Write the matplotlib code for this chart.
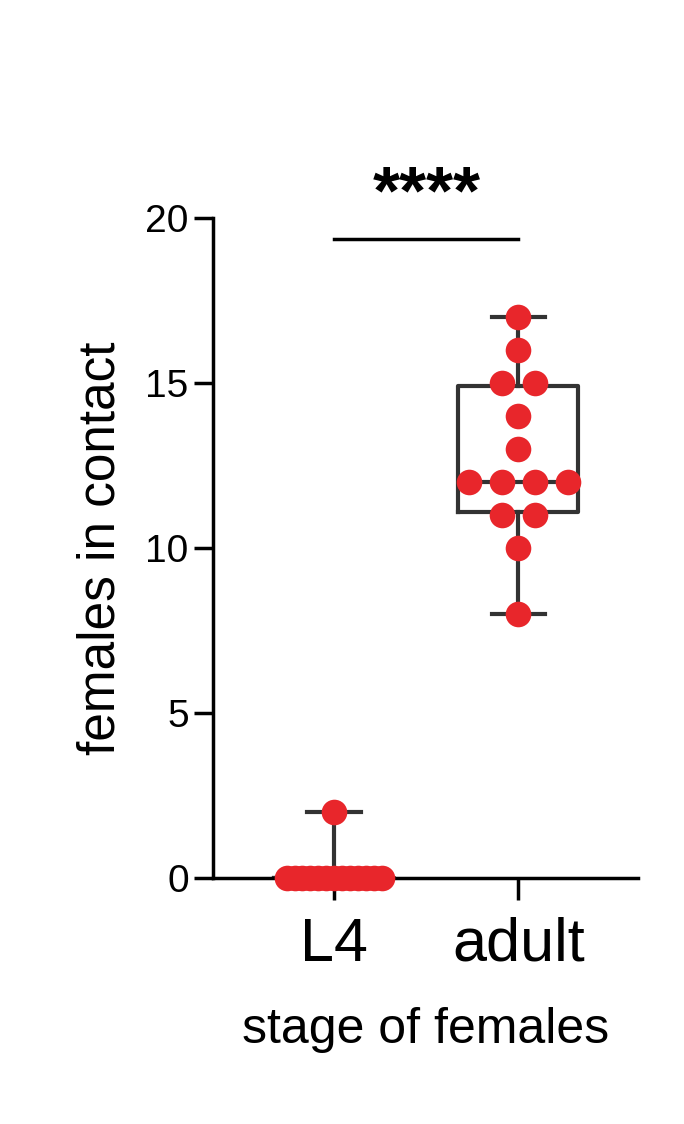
import matplotlib.pyplot as plt
import numpy as np

groups = ["L4", "adult"]
l4_values = [0]*13 + [2]
adult_values = [17, 16, 15, 15, 14, 13, 12, 12, 12, 12, 11, 11, 10, 8]
box_stats = [
    dict(med=0, q1=0, q3=0, whislo=0, whishi=2),
    dict(med=12, q1=11.1, q3=14.9, whislo=8, whishi=17),
]

plt.rcParams['font.family'] = ['Liberation Sans', 'DejaVu Sans']
fig = plt.figure(figsize=(6.84, 11.24), dpi=100)
ax = fig.add_axes([213/684, 1-878/1124, 425/684, 660/1124])

for i, s in enumerate(box_stats):
    s['label'] = groups[i]
ax.bxp(box_stats, positions=[0, 1], widths=0.65, showfliers=False,
       boxprops=dict(color='#333333', lw=3), whiskerprops=dict(color='#333333', lw=3),
       capprops=dict(color='#333333', lw=3), medianprops=dict(color='#333333', lw=3),
       capwidths=0.29, zorder=2)

def swarm(vals, center, step=0.16):
    xs, ys = [], []
    from collections import Counter
    c = Counter(vals)
    for v, n in c.items():
        offs = (np.arange(n) - (n-1)/2) * step
        xs += list(center + offs); ys += [v]*n
    return xs, ys

x0, y0 = swarm(l4_values, 0, step=0.043)
x1, y1 = swarm(adult_values, 1, step=0.18)
ax.scatter(x0, y0, s=340, color='#e8262b', zorder=3, clip_on=False, lw=0)
ax.scatter(x1, y1, s=340, color='#e8262b', zorder=3, clip_on=False, lw=0)

ax.set_xlim(-0.658, 1.65)
ax.set_ylim(0, 20)
ax.set_yticks([0, 5, 10, 15, 20])
ax.set_xticks([0, 1])
ax.set_xticklabels(groups, fontsize=44)
ax.tick_params(axis='y', labelsize=28, width=2.5, length=14)
ax.tick_params(axis='x', width=2.5, length=16, pad=12)
for sp in ['top', 'right']:
    ax.spines[sp].set_visible(False)
ax.spines['left'].set_linewidth(2.5)
ax.spines['bottom'].set_linewidth(2.5)
ax.set_ylabel("females in contact", fontsize=37, labelpad=14)
ax.set_xlabel("stage of females", fontsize=36, labelpad=24)

ax.plot([0, 1], [19.35, 19.35], color='black', lw=2.5, clip_on=False)
ax.text(0.5, 19.7, "****", ha='center', va='bottom', fontsize=50, fontweight='bold')

fig.savefig("out.png", dpi=100)
